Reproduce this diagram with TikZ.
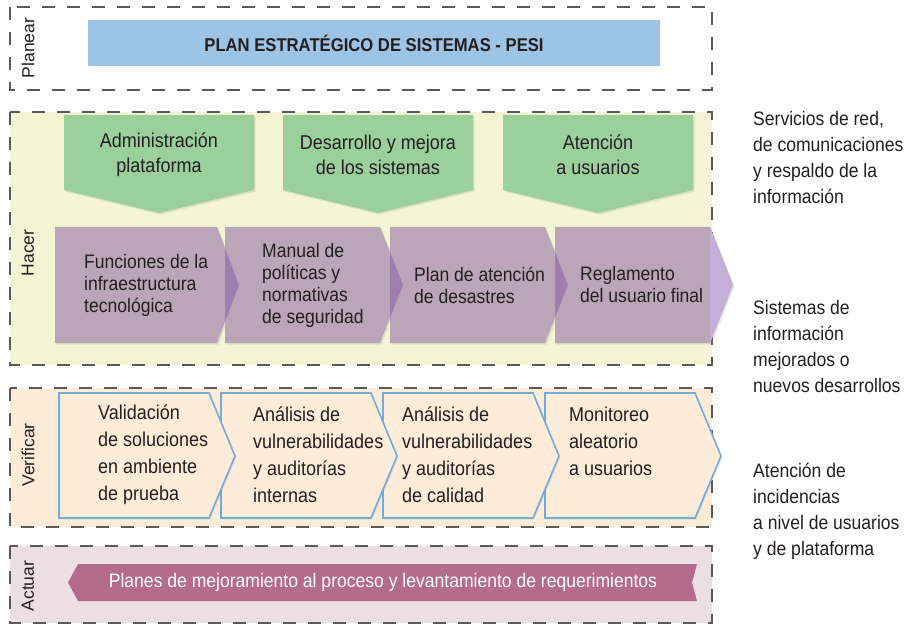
\documentclass[tikz,border=0pt]{standalone}
\usepackage{fontspec}
\setmainfont[FakeStretch=0.9]{Liberation Sans}
\newfontfamily\labelfont{Liberation Sans}
\usetikzlibrary{positioning, shadows}

\definecolor{txt}{HTML}{231F20}
\definecolor{dashgray}{HTML}{5A5A5A}
\definecolor{pesiblue}{HTML}{9DC4E4}
\definecolor{hacerbg}{HTML}{F4F5D4}
\definecolor{greenbox}{HTML}{9BCF9C}
\definecolor{purplebox}{HTML}{BBA6B9}
\definecolor{purpletip}{HTML}{9E7DAF}
\definecolor{lavtip}{HTML}{C5AED8}
\definecolor{verifbg}{HTML}{FDEDD8}
\definecolor{verifline}{HTML}{72ACDE}
\definecolor{actuarbg}{HTML}{EBDFE4}
\definecolor{banner}{HTML}{B56B8B}

\begin{document}
\begin{tikzpicture}
	[x=1pt, y=-1pt,
	fase/.style={draw=dashgray, line width=1.1pt, dash pattern=on 13pt off 12pt},
	etiqueta/.style={rotate=90, text=txt, font=\labelfont\fontsize{17.5}{20}\selectfont},
	sombra/.style={drop shadow={opacity=0.18, shadow xshift=1.5pt, shadow yshift=-1.5pt}},
	caja/.style={text=txt, align=left, anchor=west, inner sep=0pt},
	hacertxt/.style={caja, font=\fontsize{19.5}{22}\selectfont},
	vertxt/.style={caja, font=\fontsize{20}{27}\selectfont},
	verdetxt/.style={text=txt, align=center, inner sep=0pt, font=\fontsize{20}{25}\selectfont},
	ladotxt/.style={caja, font=\fontsize{19.5}{26}\selectfont},
	verchev/.style={fill=verifbg, draw=verifline, line width=1.6pt, line join=miter, sombra}]
   \useasboundingbox (0,0) rectangle (909,628);

   % fases
   \path[fase, fill=white] (10,7) rectangle (712,90);
   \path[fase, fill=hacerbg] (10,112) rectangle (712,365);
   \path[fase, fill=verifbg] (10,388) rectangle (712,527);
   \path[fase, fill=actuarbg] (10,546) rectangle (712,623);

   \node[etiqueta] (planear) at (28,48) {Planear};
   \node[etiqueta] (hacer) at (28,253) {Hacer};
   \node[etiqueta] (verificar) at (28,455) {Verificar};
   \node[etiqueta] (actuar) at (28,586) {Actuar};

   % planear
   \node[fill=pesiblue, minimum width=572pt, minimum height=46pt, inner sep=0pt,
         text=txt, font=\bfseries\fontsize{18.5}{20}\selectfont] (pesi) at (374,43)
         {PLAN ESTRATÉGICO DE SISTEMAS - PESI};

   % hacer: flechas verdes
   \foreach \x in {64, 283, 503}
      \fill[greenbox, sombra] (\x,115) -- ++(190,0) -- ++(0,75) -- ++(-95,23) -- ++(-95,-23) -- cycle;
   \node[verdetxt] (adm) at (159,155) {Administración\\plataforma};
   \node[verdetxt] (des) at (378,155) {Desarrollo y mejora\\de los sistemas};
   \node[verdetxt] (ate) at (598,155) {Atención\\a usuarios};

   % hacer: cheurones
   \foreach \l/\s/\t in {55/217/239, 225/380/403, 390/545/568, 555/710/733}
      \fill[purplebox, sombra] (\l,227) -- (\s,227) -- (\t,285) -- (\s,343) -- (\l,343) -- cycle;
   \foreach \s/\t/\n/\c in {217/239/225/purpletip, 380/403/390/purpletip, 545/568/555/purpletip, 710/733/710/lavtip}
   {
      \begin{scope}
         \clip (\n,227) rectangle (\t,343);
         \fill[\c] (\s,227) -- (\t,285) -- (\s,343) -- cycle;
      \end{scope}
   }
   \node[hacertxt] (fun) at (84,285) {Funciones de la\\infraestructura\\tecnológica};
   \node[hacertxt] (man) at (262,285) {Manual de\\políticas y\\normativas\\de seguridad};
   \node[hacertxt] (pla) at (414,285) {Plan de atención\\de desastres};
   \node[hacertxt] (reg) at (580,285) {Reglamento\\del usuario final};

   % verificar
   \foreach \l in {545, 383, 221, 59}
      \path[verchev] (\l,393) -- ++(150,0) -- ++(26,63) -- ++(-26,62) -- ++(-150,0) -- cycle;
   \node[vertxt] (val) at (98,455) {Validación\\de soluciones\\en ambiente\\de prueba};
   \node[vertxt] (ana) at (253,455) {Análisis de\\vulnerabilidades\\y auditorías\\internas};
   \node[vertxt] (cal) at (402,455) {Análisis de\\vulnerabilidades\\y auditorías\\de calidad};
   \node[vertxt] (mon) at (569,441) {Monitoreo\\aleatorio\\a usuarios};

   % actuar
   \fill[banner] (697,564) -- (78,564) -- (68,582.5) -- (78,601) -- (697,601) -- (692,582.5) -- cycle;
   \node[text=white, inner sep=0pt, font=\fontsize{19.5}{22}\selectfont] (planes) at (383,582)
         {Planes de mejoramiento al proceso y levantamiento de requerimientos};

   % resultados
   \node[ladotxt] (res1) at (753,157.5) {Servicios de red,\\de comunicaciones\\y respaldo de la\\información};
   \node[ladotxt] (res2) at (753,347) {Sistemas de\\información\\mejorados o\\nuevos desarrollos};
   \node[ladotxt] (res3) at (753,511.5) {Atención de\\incidencias\\a nivel de usuarios\\y de plataforma};

\end{tikzpicture}
\end{document}
